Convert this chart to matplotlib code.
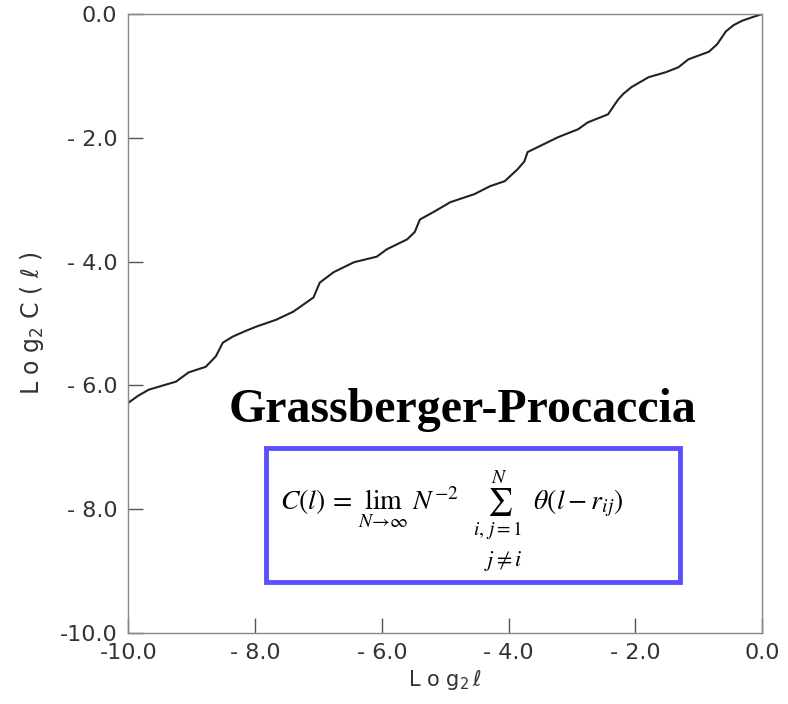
import numpy as np
from matplotlib import pyplot as plt
from matplotlib.patches import Rectangle

# Curva log2 C(l) x log2 l
log_l = [-10.0, -9.85, -9.68, -9.45, -9.25, -9.05, -8.78, -8.62, -8.51, -8.35,
         -8.15, -7.98, -7.67, -7.40, -7.08, -6.98, -6.76, -6.44, -6.08, -5.92,
         -5.60, -5.48, -5.40, -5.17, -4.92, -4.54, -4.29, -4.06, -3.86, -3.75,
         -3.70, -3.54, -3.22, -2.90, -2.75, -2.43, -2.27, -2.19, -2.06, -1.79,
         -1.52, -1.32, -1.16, -0.84, -0.71, -0.57, -0.45, -0.32, -0.15, 0.0]
log_c = [-6.28, -6.17, -6.07, -6.00, -5.94, -5.79, -5.70, -5.53, -5.31, -5.21,
         -5.12, -5.05, -4.94, -4.81, -4.58, -4.34, -4.17, -4.01, -3.92, -3.80,
         -3.64, -3.52, -3.32, -3.19, -3.04, -2.91, -2.78, -2.70, -2.51, -2.38,
         -2.23, -2.15, -1.99, -1.86, -1.75, -1.62, -1.38, -1.29, -1.18, -1.02,
         -0.94, -0.86, -0.73, -0.61, -0.49, -0.28, -0.18, -0.11, -0.05, 0.0]

ticks = [-10.0, -8.0, -6.0, -4.0, -2.0, 0.0]
tick_labels = ['-10.0', '- 8.0', '- 6.0', '- 4.0', '- 2.0', '0.0']

fig = plt.figure(figsize=(7.88, 7.04), dpi=100)
ax = fig.add_axes([0.163, 0.101, 0.804, 0.879])

ax.plot(log_l, log_c, color='#222222', linewidth=1.5)

ax.set_xlim(-10, 0)
ax.set_ylim(-10, 0)
ax.set_xticks(ticks)
ax.set_yticks(ticks)
ax.set_xticklabels(tick_labels)
ax.set_yticklabels(tick_labels)
ax.tick_params(direction='in', length=11, width=1.0, color='#555555',
               labelsize=16, labelcolor='#333333')
ax.tick_params(axis='x', pad=7)
ax.tick_params(axis='y', pad=8)
for s in ax.spines.values():
    s.set_color('#888888')
    s.set_linewidth(1.0)

ax.set_xlabel(r'L o g$_2\,\ell$', fontsize=15, color='#333333', labelpad=4)
ax.set_ylabel(r'L o g$_2$ C ( $\ell$ )', fontsize=17, color='#333333', labelpad=10)

# Titulo e formula
ax.text(0.527, 0.341, 'Grassberger-Procaccia', transform=ax.transAxes,
        ha='center', va='baseline', fontsize=34.5, fontweight='bold',
        family='Liberation Serif')

ax.add_patch(Rectangle((0.2175, 0.082), 0.6535, 0.217, transform=ax.transAxes,
                       fill=False, edgecolor='#5a50ff', linewidth=3.5))

plt.rcParams['mathtext.fontset'] = 'stix'
ax.text(0.511, 0.199,
        r'$C(l)\,=\,\lim_{N\rightarrow\infty}\;N^{-2}\;\;\sum_{i,\,j=1}^{N}\;\;\theta(l-r_{ij})$',
        transform=ax.transAxes, ha='center', va='baseline', fontsize=20)
ax.text(0.592, 0.108, r'$j\neq i$', transform=ax.transAxes,
        ha='center', va='baseline', fontsize=16)

plt.savefig('out.png')
